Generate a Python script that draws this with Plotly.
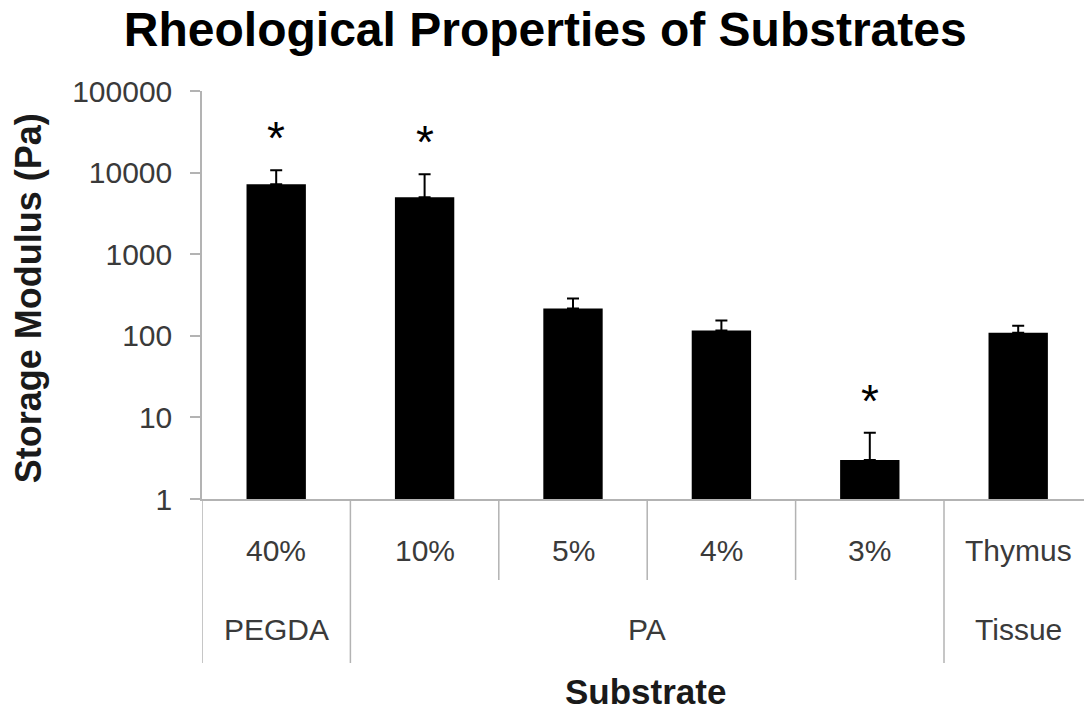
import math
import plotly.graph_objects as go

categories = ["40%", "10%", "5%", "4%", "3%", "Thymus"]
groups = ["PEGDA", "PA", "Tissue"]
group_spans = [(0, 0), (1, 4), (5, 5)]
values = [7200, 4990, 216, 116, 3.0, 109]
err_top = [10700, 9550, 286, 154, 6.5, 133]
significant = [True, True, False, False, True, False]

FONT = "Arial, Liberation Sans, sans-serif"
AXIS_GRAY = "#b3b3b3"
TEXT_GRAY = "#3a3a3a"

x_idx = list(range(len(categories)))
err_plus = [t - v for t, v in zip(err_top, values)]

fig = go.Figure()
fig.add_trace(go.Bar(
    x=x_idx, y=values, width=0.4,
    marker=dict(color="black", line=dict(width=0)),
    error_y=dict(type="data", symmetric=False, array=err_plus,
                 arrayminus=[0] * len(values), color="black",
                 thickness=2, width=6),
    showlegend=False, hoverinfo="skip",
))

annotations = []
# asterisks
for i, s in enumerate(significant):
    if s:
        annotations.append(dict(x=i, y=math.log10(err_top[i]), xref="x", yref="y",
                                text="*", showarrow=False, yanchor="bottom",
                                yshift=4, font=dict(family=FONT, size=46, color="black")))
# category labels row 1
for i, c in enumerate(categories):
    annotations.append(dict(x=i, y=-0.125, xref="x", yref="paper", text=c,
                            showarrow=False, yanchor="middle",
                            font=dict(family=FONT, size=30, color=TEXT_GRAY)))
# group labels row 2
for g, (a, b) in zip(groups, group_spans):
    annotations.append(dict(x=(a + b) / 2, y=-0.321, xref="x", yref="paper", text=g,
                            showarrow=False, yanchor="middle",
                            font=dict(family=FONT, size=30, color=TEXT_GRAY)))
# axis titles
annotations.append(dict(x=-0.197, y=0.4926, xref="paper", yref="paper",
                        text="<b>Storage Modulus (Pa)</b>", textangle=-90,
                        showarrow=False, xanchor="center", yanchor="middle",
                        font=dict(family=FONT, size=36, color="#1a1a1a")))
annotations.append(dict(x=0.503, y=-0.471, xref="paper", yref="paper",
                        text="<b>Substrate</b>", showarrow=False,
                        xanchor="center", yanchor="middle",
                        font=dict(family=FONT, size=35, color="#1a1a1a")))

# separators
shapes = []
outer = set()
for a, b in group_spans:
    outer.add(a - 0.5)
    outer.add(b + 0.5)
for k in range(len(categories)):
    xb = k - 0.5
    y0 = -0.402 if xb in outer else -0.1985
    shapes.append(dict(type="line", xref="x", yref="paper", x0=xb, x1=xb,
                       y0=0, y1=y0, line=dict(color=AXIS_GRAY, width=1.5)))

fig.update_layout(
    width=1084, height=710,
    margin=dict(l=202, r=0, t=91, b=211),
    paper_bgcolor="white", plot_bgcolor="white",
    title=dict(text="<b>Rheological Properties of Substrates</b>", x=0.503, xanchor="center",
               y=1 - 29 / 710, yanchor="middle",
               font=dict(family=FONT, size=48, color="black")),
    xaxis=dict(range=[-0.5, -0.5 + 882 / 148.4], showticklabels=False, showgrid=False,
               zeroline=False, showline=True, linecolor=AXIS_GRAY, linewidth=1.5,
               ticks=""),
    yaxis=dict(type="log", range=[0, 5], tickvals=[1, 10, 100, 1000, 10000, 100000],
               ticktext=["1", "10", "100", "1000", "10000", "100000"],
               showgrid=False, zeroline=False, showline=True, linecolor=AXIS_GRAY,
               linewidth=1.5, ticks="outside", ticklen=10, tickcolor=AXIS_GRAY,
               tickwidth=1.5, ticklabelstandoff=12,
               tickfont=dict(family=FONT, size=30, color=TEXT_GRAY)),
    annotations=annotations, shapes=shapes,
)

fig.write_html("out.html", config={"displayModeBar": False},
               post_script="document.body.style.margin='0';")
